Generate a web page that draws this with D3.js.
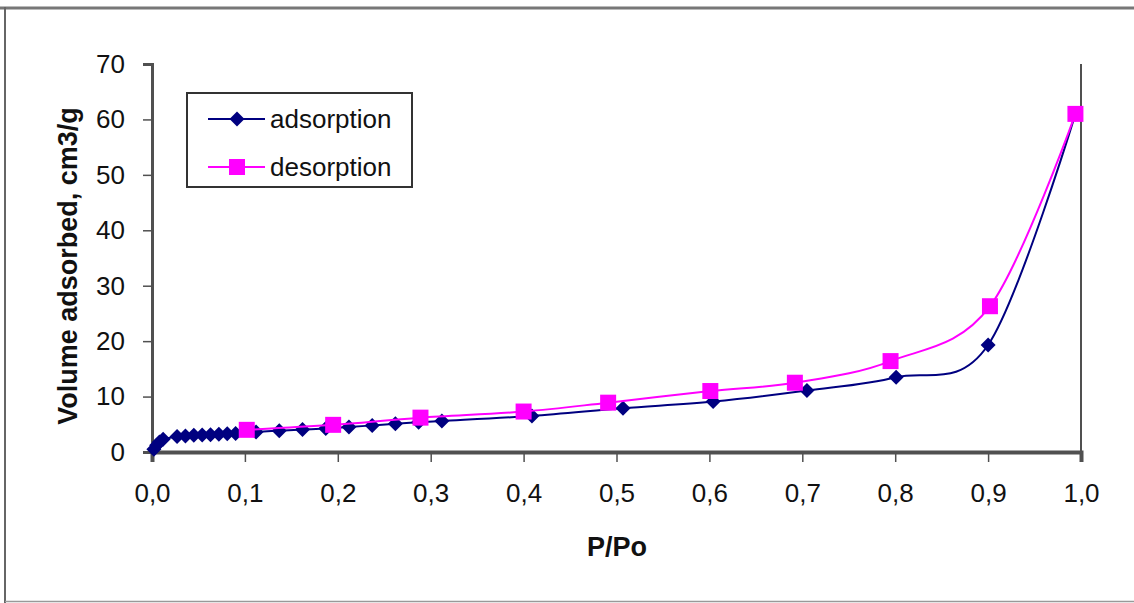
<!DOCTYPE html>
<html>
<head>
<meta charset="utf-8">
<script src="https://cdn.jsdelivr.net/npm/d3@7"></script>
<style>
  html, body { margin: 0; padding: 0; background: #fff; }
  svg { display: block; font-family: "Liberation Sans", Arial, sans-serif; }
</style>
</head>
<body>
<svg id="chart" width="1134" height="603"></svg>
<script>
// Nitrogen isotherm: relative pressure P/Po vs adsorbed volume (cm3/g)
const adsorptionP = [0.002, 0.005, 0.008, 0.012, 0.027, 0.036, 0.045, 0.054, 0.063, 0.072, 0.081, 0.090,
                     0.112, 0.137, 0.162, 0.187, 0.212, 0.237, 0.262, 0.287, 0.312,
                     0.409, 0.507, 0.604, 0.705, 0.801, 0.900, 0.994];
const adsorptionV = [0.5, 1.2, 1.8, 2.3, 2.8, 2.9, 3.0, 3.05, 3.1, 3.2, 3.3, 3.35,
                     3.6, 3.85, 4.05, 4.25, 4.5, 4.8, 5.1, 5.35, 5.6,
                     6.5, 7.9, 9.1, 11.1, 13.5, 19.3, 61.0];
const desorptionP = [0.994, 0.902, 0.795, 0.692, 0.601, 0.491, 0.400, 0.289, 0.195, 0.102];
const desorptionV = [61.0, 26.3, 16.4, 12.5, 11.0, 8.9, 7.3, 6.2, 4.9, 4.0];

const xTicks = [0, 0.1, 0.2, 0.3, 0.4, 0.5, 0.6, 0.7, 0.8, 0.9, 1.0];
const yTicks = [0, 10, 20, 30, 40, 50, 60, 70];
const seriesNames = ["adsorption", "desorption"];
const xTitle = "P/Po";
const yTitle = "Volume adsorbed, cm3/g";

const navy = "#000080", magenta = "#ff00ff", axisGrey = "#505050";

const svg = d3.select("#chart");

// Outer chart frame
svg.append("line").attr("x1", 0).attr("x2", 1134).attr("y1", 8).attr("y2", 8)
  .attr("stroke", "#777").attr("stroke-width", 3);
svg.append("line").attr("x1", 5).attr("x2", 5).attr("y1", 7).attr("y2", 603)
  .attr("stroke", "#666").attr("stroke-width", 2);
svg.append("line").attr("x1", 5).attr("x2", 1134).attr("y1", 601.5).attr("y2", 601.5)
  .attr("stroke", "#999").attr("stroke-width", 1.5);

const x = d3.scaleLinear().domain([0, 1]).range([152, 1081]);
const y = d3.scaleLinear().domain([0, 70]).range([452, 64]);

// Plot-area right edge
svg.append("line").attr("x1", 1081).attr("x2", 1081).attr("y1", 64).attr("y2", 452)
  .attr("stroke", axisGrey).attr("stroke-width", 2);

// Axes
const xAxis = svg.append("g").attr("transform", "translate(0,452)")
  .call(d3.axisBottom(x).tickValues(xTicks).tickSize(10).tickPadding(22)
    .tickFormat(d => d3.format(".1f")(d).replace(".", ",")));
const yAxis = svg.append("g").attr("transform", "translate(152,0)")
  .call(d3.axisLeft(y).tickValues(yTicks).tickSize(9).tickPadding(18));

[xAxis, yAxis].forEach(g => {
  g.select(".domain").attr("stroke", axisGrey).attr("stroke-width", 3);
  g.selectAll(".tick line").attr("stroke", axisGrey).attr("stroke-width", 1.5);
  g.selectAll(".tick text").attr("fill", "#111").attr("font-size", 26)
    .attr("font-family", "Liberation Sans, Arial, sans-serif");
});
xAxis.select(".domain").attr("stroke-width", 4);

// Axis titles
svg.append("text").attr("x", 617).attr("y", 556).attr("text-anchor", "middle")
  .attr("font-size", 27).attr("font-weight", "bold").attr("fill", "#111").text(xTitle);
svg.append("text").attr("transform", "translate(77,266) rotate(-90)").attr("text-anchor", "middle")
  .attr("font-size", 27).attr("font-weight", "bold").attr("fill", "#111").text(yTitle);

// Smoothed series lines
const line = d3.line().x(d => x(d[0])).y(d => y(d[1])).curve(d3.curveCardinal.tension(0));
const adsData = adsorptionP.map((p, i) => [p, adsorptionV[i]]);
const desData = desorptionP.map((p, i) => [p, desorptionV[i]]);

const diamond = r => `M0,${-r}L${r},0L0,${r}L${-r},0Z`;
const square = s => `M${-s / 2},${-s / 2}h${s}v${s}h${-s}Z`;

svg.append("path").datum(adsData).attr("d", line)
  .attr("fill", "none").attr("stroke", navy).attr("stroke-width", 2);
svg.append("g").selectAll("path").data(adsData).join("path")
  .attr("transform", d => `translate(${x(d[0])},${y(d[1])})`)
  .attr("d", diamond(7.5)).attr("fill", navy);

svg.append("path").datum(desData).attr("d", line)
  .attr("fill", "none").attr("stroke", magenta).attr("stroke-width", 2);
svg.append("g").selectAll("path").data(desData).join("path")
  .attr("transform", d => `translate(${x(d[0])},${y(d[1])})`)
  .attr("d", square(16)).attr("fill", magenta);

// Legend
const legend = svg.append("g");
legend.append("rect").attr("x", 187).attr("y", 93).attr("width", 225).attr("height", 94)
  .attr("fill", "#fff").attr("stroke", "#333").attr("stroke-width", 2);
const legendItems = [
  { name: seriesNames[0], color: navy, mark: diamond(7.5), yy: 119 },
  { name: seriesNames[1], color: magenta, mark: square(16), yy: 167 }
];
legendItems.forEach(it => {
  legend.append("line").attr("x1", 208).attr("x2", 265).attr("y1", it.yy).attr("y2", it.yy)
    .attr("stroke", it.color).attr("stroke-width", 2);
  legend.append("path").attr("transform", `translate(237,${it.yy})`).attr("d", it.mark).attr("fill", it.color);
  legend.append("text").attr("x", 270).attr("y", it.yy + 9).attr("font-size", 26)
    .attr("fill", "#111").text(it.name);
});
</script>
</body>
</html>
